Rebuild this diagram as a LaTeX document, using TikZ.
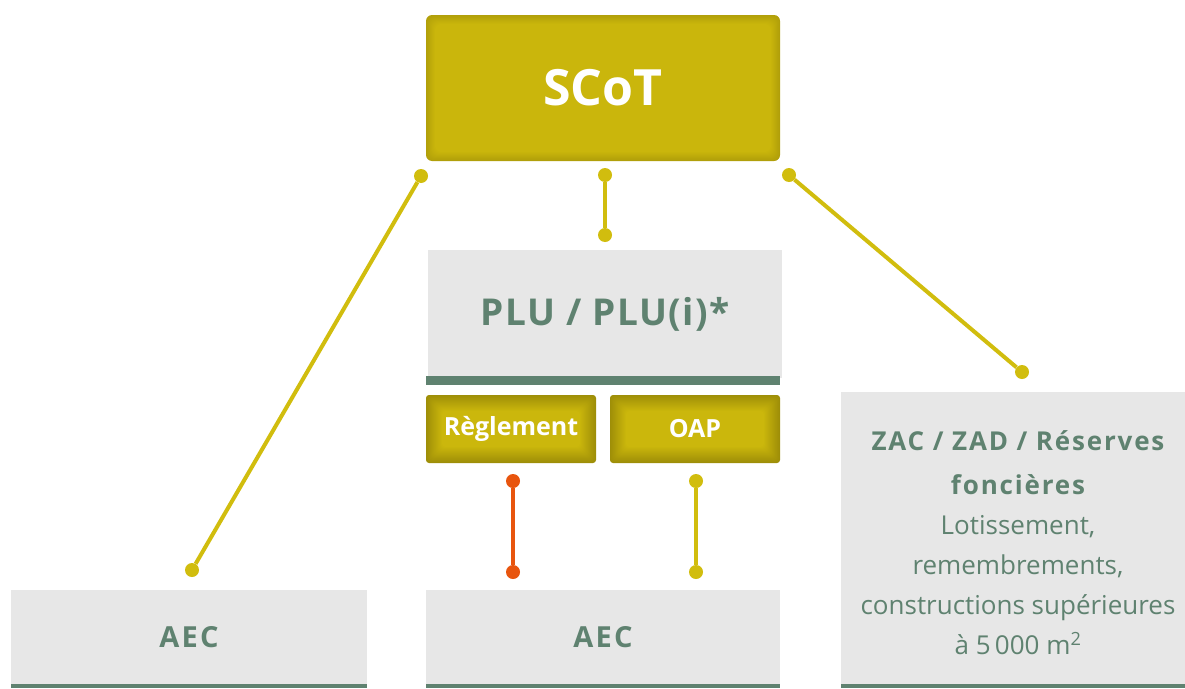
\documentclass[tikz,border=0pt]{standalone}
\usepackage{fontspec}
\setmainfont{Open Sans}
\begin{document}
\begin{tikzpicture}[x=1pt,y=-1pt,
	graybox/.style={fill=boxgray, inner sep=0, minimum height=95pt},
	greenbar/.style={fill=bargreen},
	link/.style={line width=4pt, draw=linkyellow},
	linkred/.style={line width=4pt, draw=linkorange},
	dot/.style={circle, fill=linkyellow, inner sep=0, minimum size=14pt},
	dotred/.style={circle, fill=linkorange, inner sep=0, minimum size=14pt},
	title/.style={text=bargreen, font=\bfseries\fontsize{29pt}{29pt}\selectfont\addfontfeature{LetterSpace=8}},
	whitetxt/.style={text=white, font=\bfseries}]
	\definecolor{boxgray}{RGB}{231, 231, 231}
	\definecolor{bargreen}{RGB}{95, 130, 112}
	\definecolor{olivemain}{RGB}{205, 185, 12}
	\definecolor{olivedark}{RGB}{158, 142, 8}
	\definecolor{linkyellow}{RGB}{209, 189, 14}
	\definecolor{linkorange}{RGB}{232, 85, 14}
	\useasboundingbox (0,0) rectangle (1185,688);
	% SCoT, soft dark rim
	\foreach \k in {0,...,9} {
		\pgfmathtruncatemacro\pct{60-\k*6}
		\fill [olivedark!\pct!olivemain, rounded corners=6pt] (426+\k,15+\k) rectangle (780-\k,161-\k);
	}
	\node [whitetxt, font=\bfseries\fontsize{50pt}{50pt}\selectfont] (scot) at (603,88) {SCoT};
	% Reglement / OAP, deeper rim
	\foreach \x in {426,610} {
		\foreach \k in {0,...,16} {
			\pgfmathtruncatemacro\pct{100-\k*6}
			\fill [olivedark!\pct!olivemain, rounded corners=3pt] (\x+\k,395+\k) rectangle (\x+170-\k,463-\k);
		}
	}
	\node [whitetxt, font=\bfseries\fontsize{25pt}{25pt}\selectfont] (regl) at (511,429) {Règlement};
	\node [whitetxt, font=\bfseries\fontsize{25pt}{25pt}\selectfont] (oap) at (695,429) {OAP};
	% gray boxes
	\node [graybox, minimum width=354pt, minimum height=128pt, title, font=\bfseries\fontsize{37pt}{37pt}\selectfont\addfontfeature{LetterSpace=4}] (plu) at (605,314) {PLU / PLU(i)*};
	\fill [greenbar] (426,376) rectangle (780,385);
	\node [graybox, minimum width=356pt, title] (aecA) at (189,637) {AEC};
	\fill [greenbar] (11,684) rectangle (367,688);
	\node [graybox, minimum width=354pt, title] (aecB) at (603,637) {AEC};
	\fill [greenbar] (426,684) rectangle (780,688);
	\node [graybox, minimum width=344pt, minimum height=292pt] (zac) at (1013,538) {};
	\fill [greenbar] (841,684) rectangle (1185,688);
	\node [text=bargreen, align=center, font=\fontsize{26pt}{40pt}\selectfont] (zactxt) at (1018,543)
		{{\bfseries\addfontfeature{LetterSpace=7}ZAC / ZAD / Réserves}\\[4pt]{\bfseries\addfontfeature{LetterSpace=7}foncières}\\Lotissement,\\remembrements,\\constructions supérieures\\à 5\,000 m\textsuperscript{2}};
	% links
	\node [dot] (s1) at (421,176) {};
	\node [dot] (s2) at (605,175) {};
	\node [dot] (s3) at (789,175) {};
	\node [dot] (a1) at (192,570) {};
	\node [dot] (p1) at (605,235) {};
	\node [dot] (z1) at (1022,372) {};
	\node [dotred] (r1) at (513,481) {};
	\node [dotred] (r2) at (513,572) {};
	\node [dot] (o1) at (696,481) {};
	\node [dot] (o2) at (696,572) {};
	\draw [link] (s1) -- (a1);
	\draw [link] (s2) -- (p1);
	\draw [link] (s3) -- (z1);
	\draw [linkred] (r1) -- (r2);
	\draw [link] (o1) -- (o2);
\end{tikzpicture}
\end{document}
